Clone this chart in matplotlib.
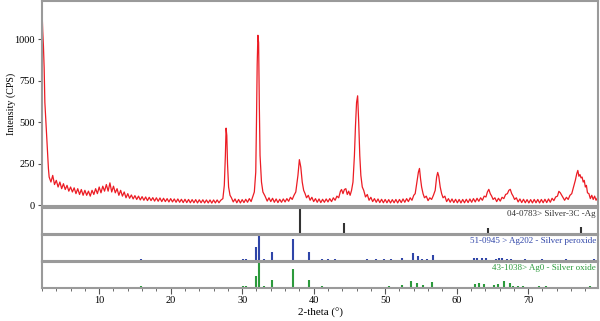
import matplotlib
matplotlib.use("Agg")
import matplotlib.pyplot as plt

plt.rcParams['font.family'] = ['Liberation Serif', 'DejaVu Serif']

scan_low = [
    (2.0, 1180), (2.1, 1050), (2.2, 960), (2.3, 830), (2.4, 620), (2.5, 540), (2.6, 450),
    (2.7, 390), (2.8, 300), (2.9, 220), (3.0, 170), (3.25, 140), (3.5, 180), (3.75, 125),
    (4.0, 150), (4.25, 110), (4.5, 140), (4.75, 100), (5.0, 130), (5.25, 95), (5.5, 120),
    (5.75, 85), (6.0, 110), (6.25, 80), (6.5, 105), (6.75, 70), (7.0, 100), (7.25, 65),
    (7.5, 95), (7.75, 60), (8.0, 90), (8.25, 60), (8.5, 85), (8.75, 55), (9.0, 90),
    (9.25, 65), (9.5, 100), (9.75, 70), (10.0, 110), (10.25, 75), (10.5, 115), (10.75, 85),
    (11.0, 125), (11.25, 85), (11.5, 135), (11.75, 80), (12.0, 115), (12.25, 75),
    (12.5, 100), (12.75, 60), (13.0, 90), (13.25, 55), (13.5, 80), (13.75, 45), (14.0, 70),
    (14.25, 42), (14.5, 62), (14.75, 38), (15.0, 58), (15.25, 35), (15.5, 55), (15.75, 32),
    (16.0, 52), (16.25, 30), (16.5, 50), (16.75, 28), (17.0, 48), (17.25, 28), (17.5, 46),
    (17.75, 25), (18.0, 45), (18.25, 24), (18.5, 44), (18.75, 22), (19.0, 42), (19.25, 22),
    (19.5, 40), (19.75, 20), (20.0, 40), (20.25, 20), (20.5, 38), (20.75, 18), (21.0, 38),
    (21.25, 18), (21.5, 36), (21.75, 16), (22.0, 36), (22.25, 16), (22.5, 35), (22.75, 15),
    (23.0, 34), (23.25, 15), (23.5, 34), (23.75, 14), (24.0, 33), (24.25, 15), (24.5, 33),
    (24.75, 14), (25.0, 32), (25.25, 14), (25.5, 32), (25.75, 13), (26.0, 32), (26.25, 14),
    (26.5, 32), (26.75, 15), (27.0, 30),
]
scan_mid = [
    (27.3, 40), (27.5, 120), (27.65, 300), (27.75, 465), (27.85, 420), (27.95, 250),
    (28.1, 110), (28.3, 60), (28.5, 45), (28.75, 20), (29.0, 38), (29.25, 15), (29.5, 35),
    (29.75, 14), (30.0, 34), (30.25, 16), (30.5, 36), (30.75, 18), (31.0, 40), (31.25, 22),
    (31.5, 55), (31.7, 80), (31.9, 200), (32.0, 500), (32.1, 850), (32.2, 1025),
    (32.3, 980), (32.4, 600), (32.5, 300), (32.7, 140), (32.9, 80), (33.2, 55), (33.5, 25),
    (33.75, 45), (34.0, 22), (34.25, 42), (34.5, 18), (34.75, 38), (35.0, 16), (35.25, 36),
    (35.5, 18), (35.75, 38), (36.0, 20), (36.25, 40), (36.5, 24), (36.75, 48), (37.0, 35),
    (37.25, 60), (37.5, 80), (37.8, 180), (38.0, 275), (38.2, 230), (38.4, 140),
    (38.6, 90), (38.8, 70), (39.0, 45), (39.25, 60), (39.5, 30), (39.75, 48), (40.0, 22),
    (40.25, 40), (40.5, 18), (40.75, 38), (41.0, 16), (41.25, 36), (41.5, 18), (41.75, 38),
    (42.0, 20), (42.25, 40), (42.5, 22), (42.75, 45), (43.0, 30), (43.25, 55), (43.5, 45),
    (43.75, 85), (43.9, 95), (44.1, 70), (44.3, 95), (44.5, 100), (44.7, 65), (44.9, 85),
    (45.1, 60), (45.3, 90), (45.5, 140), (45.7, 300), (45.85, 480), (46.0, 620),
    (46.15, 660), (46.3, 500), (46.45, 300), (46.6, 180), (46.8, 110), (47.0, 90),
    (47.25, 50), (47.5, 65), (47.75, 30), (48.0, 48), (48.25, 22), (48.5, 40), (48.75, 18),
    (49.0, 38), (49.25, 16), (49.5, 36), (49.75, 15), (50.0, 35), (50.25, 15), (50.5, 34),
    (50.75, 14), (51.0, 34), (51.25, 15), (51.5, 35), (51.75, 14), (52.0, 35), (52.25, 16),
    (52.5, 38), (52.75, 18), (53.0, 40), (53.25, 22), (53.5, 45), (53.75, 30),
]
scan_high = [
    (54.0, 60), (54.2, 70), (54.45, 140), (54.65, 200), (54.8, 222), (54.95, 160),
    (55.1, 110), (55.3, 70), (55.5, 45), (55.75, 55), (56.0, 28), (56.25, 45), (56.5, 35),
    (56.75, 60), (57.0, 90), (57.2, 170), (57.35, 198), (57.5, 175), (57.7, 110),
    (57.9, 70), (58.1, 45), (58.35, 55), (58.6, 22), (58.85, 40), (59.1, 18), (59.35, 38),
    (59.6, 16), (59.85, 36), (60.1, 15), (60.35, 35), (60.6, 14), (60.85, 35), (61.1, 15),
    (61.35, 36), (61.6, 16), (61.85, 38), (62.1, 18), (62.35, 40), (62.6, 20), (62.85, 42),
    (63.1, 24), (63.35, 45), (63.6, 30), (63.85, 55), (64.1, 50), (64.3, 80), (64.5, 96),
    (64.7, 70), (64.9, 55), (65.1, 35), (65.35, 45), (65.6, 22), (65.85, 42), (66.1, 25),
    (66.35, 48), (66.6, 40), (66.85, 65), (67.1, 70), (67.3, 90), (67.5, 96), (67.7, 70),
    (67.9, 55), (68.1, 35), (68.35, 45), (68.6, 20), (68.85, 38), (69.1, 16), (69.35, 36),
    (69.6, 15), (69.85, 34), (70.1, 14), (70.35, 34), (70.6, 14), (70.85, 35), (71.1, 15),
    (71.35, 35), (71.6, 14), (71.85, 35), (72.1, 15), (72.35, 36), (72.6, 16), (72.85, 38),
    (73.1, 18), (73.35, 42), (73.6, 28), (73.85, 50), (74.1, 55), (74.3, 84), (74.5, 75),
    (74.7, 60), (74.9, 45), (75.1, 30), (75.35, 48), (75.6, 35), (75.85, 60), (76.1, 70),
    (76.35, 110), (76.6, 150), (76.8, 190), (76.95, 210), (77.1, 175), (77.25, 185),
    (77.4, 165), (77.55, 170), (77.7, 140), (77.85, 150), (78.0, 110), (78.15, 120),
    (78.3, 75), (78.5, 70), (78.7, 40), (78.9, 60), (79.1, 35), (79.3, 55), (79.5, 30),
    (79.7, 45), (79.8, 35),
]

# reference cards: stick positions and relative heights
ag_pos = [38.1, 44.3, 64.4, 77.4]
ag_int = [1.0, 0.42, 0.24, 0.26]

ag2o2_pos = [15.8, 30.1, 30.6, 32.0, 32.3, 33.1, 34.2, 37.1, 39.3, 41.2, 42.0, 43.0,
             47.5, 48.7, 49.8, 50.8, 52.4, 53.9, 54.6, 55.2, 55.8, 56.7, 62.4, 62.9,
             63.6, 64.1, 65.5, 65.9, 66.4, 67.1, 67.6, 69.5, 72.0, 75.3, 79.2]
ag2o2_int = [0.06, 0.06, 0.06, 0.55, 1.0, 0.06, 0.35, 0.85, 0.35, 0.05, 0.05, 0.05,
             0.05, 0.05, 0.05, 0.05, 0.12, 0.28, 0.18, 0.07, 0.07, 0.22, 0.1, 0.12,
             0.12, 0.1, 0.08, 0.1, 0.12, 0.08, 0.08, 0.06, 0.06, 0.06, 0.06]

ago_pos = [15.8, 30.1, 30.6, 32.0, 32.3, 33.1, 34.2, 37.1, 39.3, 40.2, 41.1, 42.0,
           47.4, 48.6, 49.7, 50.6, 52.3, 53.6, 54.5, 55.3, 56.6, 57.6, 59.5, 62.6,
           63.1, 63.8, 65.2, 65.8, 66.6, 67.4, 67.9, 68.6, 69.3, 71.5, 72.5, 74.2,
           75.6, 77.0, 78.6]
ago_int = [0.06, 0.06, 0.06, 0.45, 1.0, 0.06, 0.32, 0.75, 0.3, 0.05, 0.06, 0.05,
           0.05, 0.05, 0.05, 0.06, 0.12, 0.28, 0.2, 0.1, 0.24, 0.05, 0.05, 0.15,
           0.18, 0.15, 0.1, 0.14, 0.28, 0.18, 0.08, 0.08, 0.06, 0.06, 0.08, 0.05,
           0.05, 0.05, 0.06]

cards = [
    (ag_pos, ag_int, '#333333', '04-0783> Silver-3C -Ag'),
    (ag2o2_pos, ag2o2_int, '#2f45a8', '51-0945 > Ag202 - Silver peroxide'),
    (ago_pos, ago_int, '#2c9a3c', '43-1038> Ag0 - Silver oxide'),
]

scan = scan_low + scan_mid + scan_high
two_theta = [p[0] for p in scan]
counts = [p[1] for p in scan]

frame = '#9a9a9a'
xmin, xmax = 2.0, 79.8

fig = plt.figure(figsize=(6.0, 3.21), dpi=100)
left, width = 0.07, 0.927

ax = fig.add_axes([left, 0.358, width, 0.638])
ax.plot(two_theta, counts, color='#ec1c24', lw=0.9)
ax.set_xlim(xmin, xmax)
ax.set_ylim(-5, 1230)
ax.set_yticks([0, 250, 500, 750, 1000])
ax.set_xticks([])
ax.set_ylabel('Intensity (CPS)', fontsize=7.2)
ax.yaxis.set_label_coords(-0.047, 0.5)
ax.tick_params(axis='y', labelsize=7.5, length=3, color='#555555', width=0.8, pad=2)

panels = []
bottoms = [0.272, 0.188, 0.103]
for (pos, inten, col, label), b in zip(cards, bottoms):
    pa = fig.add_axes([left, b, width, 0.08])
    pa.vlines(pos, 0, inten, color=col, lw=1.5)
    pa.set_xlim(xmin, xmax)
    pa.set_ylim(0, 1.0)
    pa.set_yticks([])
    pa.set_xticks([])
    pa.text(0.996, 0.93, label, transform=pa.transAxes, ha='right', va='top',
            fontsize=6.5, color=col)
    panels.append(pa)

for a in [ax] + panels:
    for s in a.spines.values():
        s.set_color(frame)
        s.set_linewidth(1.5)

last = panels[-1]
last.set_xticks([10, 20, 30, 40, 50, 60, 70])
last.set_xticks(list(range(2, 80, 2)), minor=True)
last.tick_params(axis='x', which='major', labelsize=7.5, length=4, color='#555555', width=0.8, pad=2)
last.tick_params(axis='x', which='minor', length=2, color='#555555', width=0.6)
last.set_xlabel('2-theta (°)', fontsize=8, labelpad=2)

fig.savefig('out.png', dpi=100)
